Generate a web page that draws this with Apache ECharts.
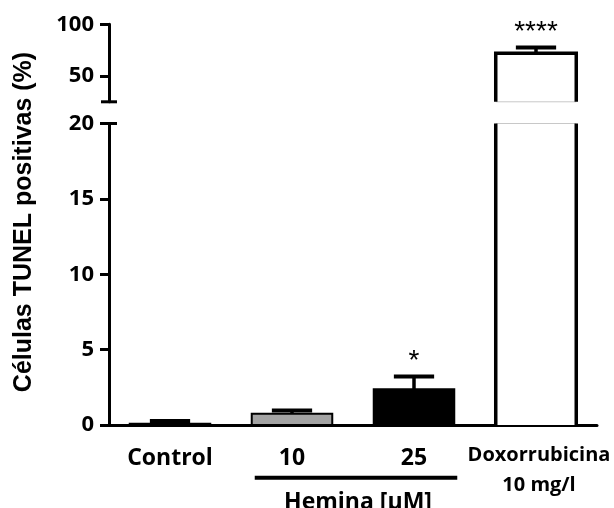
<!DOCTYPE html>
<html>
<head>
<meta charset="utf-8">
<script src="https://cdn.jsdelivr.net/npm/echarts@6/dist/echarts.min.js"></script>
<style>
  html, body { margin: 0; padding: 0; background: #fff; }
  #chart { width: 614px; height: 508px; }
</style>
</head>
<body>
<div id="chart"></div>
<script>
// Treatment groups and TUNEL-positive cell percentages (mean and SEM)
const categories = ['Control', '10', '25', 'Doxorrubicina\n10 mg/l'];
const meanValues = [0.08, 0.75, 2.37, 72];
const semValues = [0.19, 0.22, 0.84, 5.6];
const significance = ['', '', '*', '****'];

// Axis ticks of the broken y axis
const lowerTicks = [0, 5, 10, 15, 20];
const upperTicks = [50, 100];
const upperMin = 25;

// Bar fill per group
const barFills = ['#ffffff', '#a3a3a3', '#000000', '#ffffff'];

const LOWER_MAX = lowerTicks[lowerTicks.length - 1];
const LABEL_FONT = "'Open Sans', 'DejaVu Sans', sans-serif";
const ARIAL = "'Liberation Sans', Arial, sans-serif";
const BAR_RATIO = 0.66;

function errorBar(cx, yTop, yErr, w) {
  return [
    { type: 'line', shape: { x1: cx, y1: yTop, x2: cx, y2: yErr },
      style: { stroke: '#000', lineWidth: 3.5 } },
    { type: 'line', shape: { x1: cx - w / 4, y1: yErr, x2: cx + w / 4, y2: yErr },
      style: { stroke: '#000', lineWidth: 4 } }
  ];
}

function starText(cx, yErr, txt) {
  if (!txt) return [];
  return [{
    type: 'text',
    style: { text: txt, x: cx, y: yErr - 15, align: 'center', verticalAlign: 'middle',
      font: '28px ' + ARIAL, fill: '#000' }
  }];
}

// Lower panel (0-20): full bars, clipped bars show only their sides
function renderLower(params, api) {
  const i = api.value(0), m = api.value(1), e = api.value(2);
  const w = api.size([1, 0])[0] * BAR_RATIO;
  const base = api.coord([i, 0]);
  const cx = base[0], yb = base[1];
  const children = [];
  if (m > LOWER_MAX) {
    const yTop = api.coord([i, LOWER_MAX])[1];
    children.push(
      { type: 'rect', shape: { x: cx - w / 2, y: yTop, width: w, height: yb - yTop },
        style: { fill: barFills[i] } },
      { type: 'line', shape: { x1: cx - w / 2, y1: yTop, x2: cx + w / 2, y2: yTop },
        style: { stroke: '#c8c8c8', lineWidth: 1 } },
      { type: 'line', shape: { x1: cx - w / 2, y1: yTop, x2: cx - w / 2, y2: yb },
        style: { stroke: '#000', lineWidth: 3.5 } },
      { type: 'line', shape: { x1: cx + w / 2, y1: yTop, x2: cx + w / 2, y2: yb },
        style: { stroke: '#000', lineWidth: 3.5 } }
    );
  } else {
    const yTop = api.coord([i, m])[1];
    const yErr = api.coord([i, m + e])[1];
    children.push(
      { type: 'rect', shape: { x: cx - w / 2, y: yTop, width: w, height: yb - yTop },
        style: { fill: barFills[i], stroke: '#000', lineWidth: 2 } }
    );
    children.push(...errorBar(cx, yTop, yErr, w));
    children.push(...starText(cx, yErr, significance[i]));
  }
  return { type: 'group', children: children };
}

// Upper panel (25-100): top of bars taller than the lower panel
function renderUpper(params, api) {
  const i = api.value(0), m = api.value(1), e = api.value(2);
  const w = api.size([1, 0])[0] * BAR_RATIO;
  const yb = api.coord([i, upperMin])[1];
  const top = api.coord([i, m]);
  const cx = top[0], yTop = top[1];
  const yErr = api.coord([i, m + e])[1];
  const children = [
    { type: 'rect', shape: { x: cx - w / 2, y: yTop, width: w, height: yb - yTop },
      style: { fill: barFills[i] } },
    { type: 'line', shape: { x1: cx - w / 2, y1: yb, x2: cx + w / 2, y2: yb },
      style: { stroke: '#c8c8c8', lineWidth: 1 } },
    { type: 'polyline', shape: { points: [[cx - w / 2, yb], [cx - w / 2, yTop], [cx + w / 2, yTop], [cx + w / 2, yb]] },
      style: { stroke: '#000', lineWidth: 3.5, fill: null } }
  ];
  children.push(...errorBar(cx, yTop, yErr, w));
  children.push(...starText(cx, yErr, significance[i]));
  return { type: 'group', children: children };
}

const lowerData = categories.map((c, i) => [i, meanValues[i], semValues[i]]);
const upperData = categories.map((c, i) => [i, meanValues[i], semValues[i]])
  .filter(d => d[1] > LOWER_MAX);

const axisLineStyle = { color: '#000', width: 3 };
const yLabel = { color: '#000', fontFamily: LABEL_FONT, fontWeight: 'bold', fontSize: 22, margin: 15 };

const chart = echarts.init(document.getElementById('chart'), null, { renderer: 'canvas' });
chart.setOption({
  animation: false,
  backgroundColor: '#fff',
  grid: [
    { left: 109, width: 488, top: 24.3, height: 77.5 },
    { left: 109, width: 488, top: 123.5, height: 301.5 }
  ],
  xAxis: [
    { gridIndex: 0, type: 'category', data: categories, boundaryGap: true,
      axisLine: { show: false }, axisTick: { show: false }, axisLabel: { show: false } },
    { gridIndex: 1, type: 'category', data: categories, boundaryGap: true,
      axisLine: { lineStyle: axisLineStyle },
      axisTick: { alignWithLabel: true, length: 9, lineStyle: axisLineStyle },
      axisLabel: {
        interval: 0, margin: 15, color: '#000',
        formatter: v => v.indexOf('\n') >= 0
          ? v.split('\n').map(s => '{d|' + s + '}').join('\n')
          : '{c|' + v + '}',
        rich: {
          c: { fontFamily: LABEL_FONT, fontWeight: 'bold', fontSize: 23, lineHeight: 36, color: '#000' },
          d: { fontFamily: LABEL_FONT, fontWeight: 'bold', fontSize: 20, lineHeight: 30, color: '#000', padding: [0, 0, 0, 6] }
        }
      } }
  ],
  yAxis: [
    { gridIndex: 0, type: 'value', min: upperMin, max: upperTicks[upperTicks.length - 1],
      splitLine: { show: false },
      axisLine: { show: true, lineStyle: axisLineStyle },
      axisTick: { show: true, length: 9, lineStyle: axisLineStyle, customValues: upperTicks },
      axisLabel: Object.assign({ customValues: upperTicks }, yLabel) },
    { gridIndex: 1, type: 'value', min: lowerTicks[0], max: LOWER_MAX,
      interval: lowerTicks[1] - lowerTicks[0],
      splitLine: { show: false },
      axisLine: { show: true, lineStyle: axisLineStyle },
      axisTick: { show: true, length: 9, lineStyle: axisLineStyle },
      axisLabel: yLabel }
  ],
  series: [
    { type: 'custom', xAxisIndex: 1, yAxisIndex: 1, renderItem: renderLower,
      data: lowerData, clip: false, z: 3 },
    { type: 'custom', xAxisIndex: 0, yAxisIndex: 0, renderItem: renderUpper,
      data: upperData, clip: false, z: 3 }
  ]
});

// Annotations: axis break caps, y-axis title and the Hemina group bracket
const gridLeft = 109;
const upperBottom = chart.convertToPixel({ yAxisIndex: 0 }, upperMin);
const lowerTop = chart.convertToPixel({ yAxisIndex: 1 }, LOWER_MAX);
const c10 = chart.convertToPixel({ gridIndex: 1 }, [1, 0]);
const c25 = chart.convertToPixel({ gridIndex: 1 }, [2, 0]);
const halfBar = (c25[0] - c10[0]) * BAR_RATIO / 2;
const bracketLeft = c10[0] - halfBar + 3;
const bracketRight = c25[0] + halfBar + 3;

chart.setOption({
  graphic: [
    { type: 'line', shape: { x1: gridLeft - 8, y1: upperBottom, x2: gridLeft + 8, y2: upperBottom },
      style: { stroke: '#000', lineWidth: 3 } },
    { type: 'line', shape: { x1: gridLeft - 8, y1: lowerTop, x2: gridLeft + 8, y2: lowerTop },
      style: { stroke: '#000', lineWidth: 3 } },
    { type: 'text', x: 24, y: 222, rotation: Math.PI / 2,
      style: { text: 'Células TUNEL positivas (%)', align: 'center', verticalAlign: 'middle',
        font: 'bold 25px ' + ARIAL, fill: '#000' } },
    { type: 'line', shape: { x1: bracketLeft, y1: 477.7, x2: bracketRight, y2: 477.7 },
      style: { stroke: '#000', lineWidth: 4 } },
    { type: 'text', x: (bracketLeft + bracketRight) / 2 + 2, y: 502,
      style: { text: 'Hemina [µM]', align: 'center', verticalAlign: 'middle',
        font: 'bold 23px ' + LABEL_FONT, fill: '#000' } }
  ]
});
</script>
</body>
</html>
